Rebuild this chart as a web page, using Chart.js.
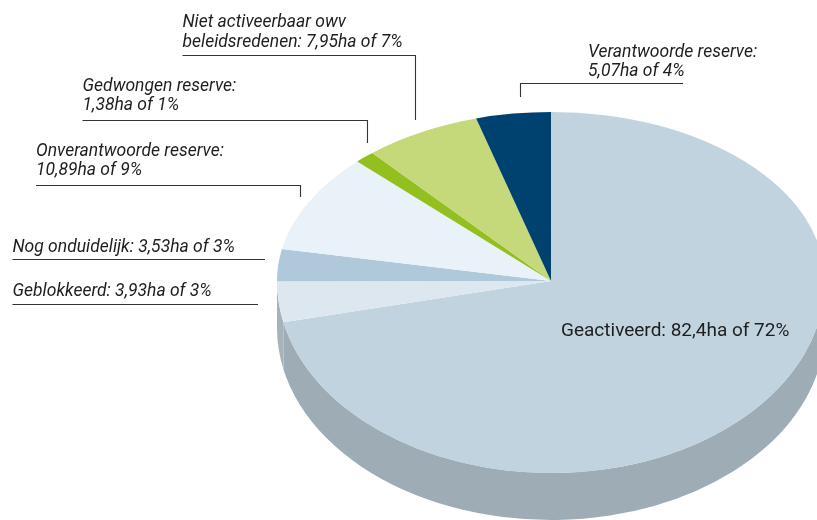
<!DOCTYPE html>
<html><head><meta charset="utf-8">
<script src="https://cdn.jsdelivr.net/npm/chart.js@4.4.1/dist/chart.umd.min.js"></script>
<style>html,body{margin:0;padding:0;background:#fff;overflow:hidden}canvas{display:block}</style>
</head><body>
<canvas id="c" width="817" height="520"></canvas>
<script>
// ---- data ----
const categories = ['Geactiveerd', 'Geblokkeerd', 'Nog onduidelijk', 'Onverantwoorde reserve', 'Gedwongen reserve', 'Niet activeerbaar owv beleidsredenen', 'Verantwoorde reserve'];
const hectares = [82.4, 3.93, 3.53, 10.89, 1.38, 7.95, 5.07];
const percentages = [72, 3, 3, 9, 1, 7, 4];
const labelLines = [
  ['Geactiveerd: 82,4ha of 72%'],
  ['Geblokkeerd: 3,93ha of 3%'],
  ['Nog onduidelijk: 3,53ha of 3%'],
  ['Onverantwoorde reserve:', '10,89ha of 9%'],
  ['Gedwongen reserve:', '1,38ha of 1%'],
  ['Niet activeerbaar owv', 'beleidsredenen: 7,95ha of 7%'],
  ['Verantwoorde reserve:', '5,07ha of 4%']
];
const topColors = ['#c0d3de', '#dce7ef', '#afc9da', '#e9f2f9', '#93c01f', '#c5d87a', '#00426f'];
const sideColors = ['#9eacb5', '#a6b3bb', '#8fa3b0', '#bfc6cc', '#6f9218', '#9aa85e', '#00304f'];

// ---- presentation (3D look + callouts) ----
const pie3d = { cx: 551, cy: 281, r: 274, kTop: 169 / 274, kBot: 192 / 274, depth: 47 };
const callouts = [
  { x: 561, y: 336, italic: false, size: 19 },
  { x: 12.5, y: 296, path: [[12.5, 304.5], [258, 304.5]] },
  { x: 12.5, y: 252, path: [[12.5, 259.5], [265, 259.5]] },
  { x: 36, y: 156, lh: 19, path: [[36, 185.5], [300.5, 185.5], [300.5, 197]] },
  { x: 82.5, y: 91, lh: 19, path: [[82.5, 120.5], [367.5, 120.5], [367.5, 143]] },
  { x: 182.5, y: 27, lh: 20, path: [[182.5, 55.5], [415.5, 55.5], [415.5, 120]] },
  { x: 588, y: 57, lh: 19, path: [[683, 83.5], [520.5, 83.5], [520.5, 97]] }
];

const pie3dPlugin = {
  id: 'pie3d',
  beforeDatasetsDraw(chart) {
    const ctx = chart.ctx, meta = chart.getDatasetMeta(0);
    const { cx, cy, kBot, depth } = pie3d;
    meta.data.forEach((arc, i) => {
      const s = Math.max(arc.startAngle, 0), e = Math.min(arc.endAngle, Math.PI);
      if (e <= s) return;
      const r = arc.outerRadius, ry = r * kBot;
      ctx.save();
      ctx.fillStyle = sideColors[i];
      ctx.beginPath();
      ctx.ellipse(cx, cy, r, ry, 0, s, e, false);
      ctx.ellipse(cx, cy + depth, r, ry, 0, e, s, true);
      ctx.closePath();
      ctx.fill();
      ctx.restore();
    });
  },
  beforeDatasetDraw(chart, args) {
    const ctx = chart.ctx, a = args.meta.data[0];
    const { cx, cy, kTop } = pie3d;
    ctx.save();
    ctx.beginPath(); ctx.rect(0, 0, chart.width, cy); ctx.clip();
    ctx.translate(cx, cy); ctx.scale(1, kTop); ctx.translate(-a.x, -a.y);
  },
  afterDatasetDraw(chart, args) {
    const ctx = chart.ctx, a = args.meta.data[0];
    const { cx, cy, kBot } = pie3d;
    ctx.restore();
    ctx.save();
    ctx.beginPath(); ctx.rect(0, cy, chart.width, chart.height - cy); ctx.clip();
    ctx.translate(cx, cy); ctx.scale(1, kBot); ctx.translate(-a.x, -a.y);
    args.meta.controller.draw();
    ctx.restore();
  },
  afterDatasetsDraw(chart) {
    const ctx = chart.ctx;
    ctx.save();
    callouts.forEach((c, i) => {
      if (c.path) {
        ctx.strokeStyle = '#333333';
        ctx.lineWidth = 1.1;
        ctx.beginPath();
        c.path.forEach((p, j) => j ? ctx.lineTo(p[0], p[1]) : ctx.moveTo(p[0], p[1]));
        ctx.stroke();
      }
      ctx.fillStyle = '#1e1e1e';
      ctx.textBaseline = 'alphabetic';
      ctx.textAlign = 'left';
      ctx.font = (c.italic === false ? '' : 'italic ') + (c.size || 17.5) + 'px Roboto';
      labelLines[i].forEach((t, j) => ctx.fillText(t, c.x, c.y + j * (c.lh || 20)));
    });
    ctx.restore();
  }
};

new Chart(document.getElementById('c'), {
  type: 'pie',
  data: {
    labels: categories,
    datasets: [{
      data: hectares,
      backgroundColor: topColors,
      borderWidth: 0,
      radius: pie3d.r,
      clip: false
    }]
  },
  options: {
    responsive: false,
    animation: false,
    events: [],
    layout: { padding: { left: 285, right: 0, top: 42, bottom: 0 } },
    plugins: { legend: { display: false }, tooltip: { enabled: false } }
  },
  plugins: [pie3dPlugin]
});
</script>
</body></html>
